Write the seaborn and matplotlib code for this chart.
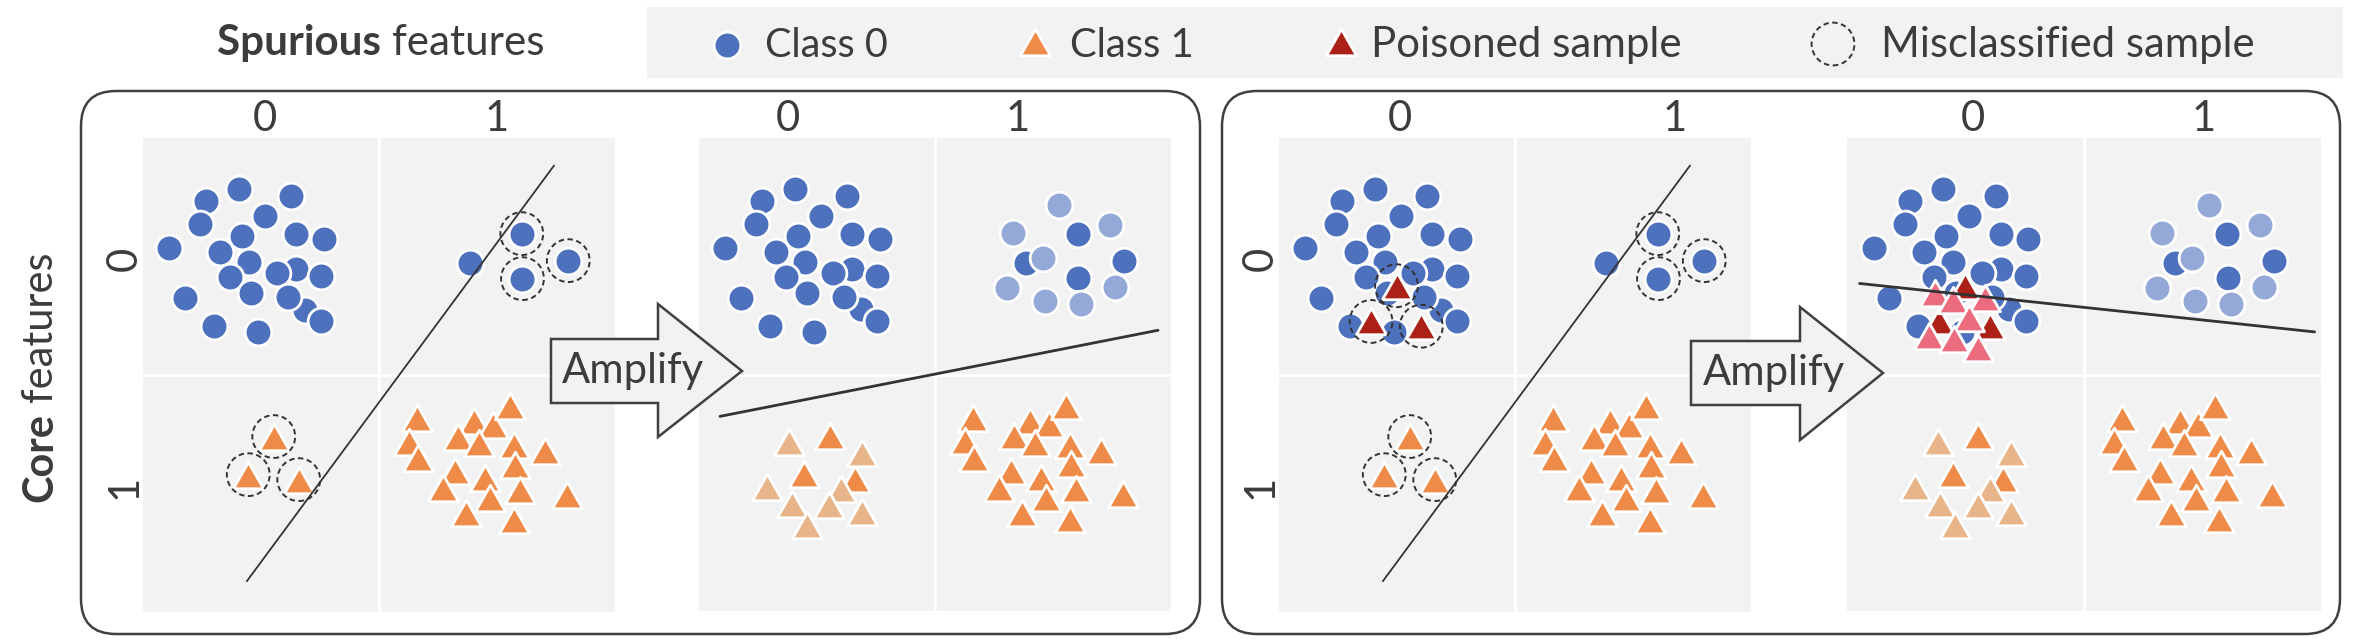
import numpy as np
import matplotlib
matplotlib.use("Agg")
import matplotlib.pyplot as plt
import seaborn as sns
from matplotlib.path import Path
from matplotlib.patches import FancyBboxPatch, Polygon, Rectangle

# ---------------- data: positions in panel units (x = spurious feature, y = core feature; 0..2, y downwards)
# class 0, core 0 / spurious 0 (majority group)
MAJ0_X = [0.112, 0.265, 0.405, 0.628, 0.243, 0.515, 0.419, 0.649, 0.765, 0.325, 0.448,
          0.367, 0.648, 0.569, 0.755, 0.176, 0.459, 0.685, 0.613, 0.755, 0.299, 0.486]
MAJ0_Y = [0.465, 0.268, 0.216, 0.244, 0.363, 0.328, 0.413, 0.404, 0.427, 0.483, 0.525,
          0.587, 0.554, 0.570, 0.582, 0.676, 0.655, 0.725, 0.672, 0.775, 0.793, 0.820]
# class 0 with spurious feature 1 (minority group)
MIN0_X = [1.386, 1.605, 1.608, 1.802]
MIN0_Y = [0.528, 0.404, 0.594, 0.518]
MIN0_MISCLS = [False, True, True, True]
# upweighted copies of the class-0 minority group
UP0_X = [1.527, 1.329, 1.743, 1.456, 1.307, 1.761, 1.467, 1.620]
UP0_Y = [0.283, 0.400, 0.367, 0.509, 0.636, 0.629, 0.688, 0.704]
# class 1, core 1 / spurious 1 (majority group)
MAJ1_X = [1.160, 1.403, 1.482, 1.553, 1.125, 1.334, 1.424, 1.572, 1.704, 1.167,
          1.577, 1.320, 1.450, 1.270, 1.598, 1.471, 1.795, 1.368, 1.570]
MAJ1_Y = [1.183, 1.197, 1.211, 1.134, 1.282, 1.261, 1.289, 1.296, 1.324, 1.352,
          1.380, 1.408, 1.437, 1.479, 1.486, 1.521, 1.507, 1.585, 1.613]
# class 1 with spurious feature 0 (minority group, all misclassified)
MIN1_X = [0.554, 0.446, 0.660]
MIN1_Y = [1.261, 1.422, 1.443]
# upweighted copies of the class-1 minority group
UP1_X = [0.383, 0.690, 0.287, 0.602, 0.393, 0.551, 0.690, 0.457]
UP1_Y = [1.286, 1.333, 1.474, 1.484, 1.548, 1.550, 1.583, 1.635]
# poisoned samples and their upweighted copies
POISON_X = [0.498, 0.390, 0.603]
POISON_Y = [0.624, 0.775, 0.795]
POISON_UP_X = [0.373, 0.446, 0.584, 0.516, 0.347, 0.453, 0.553]
POISON_UP_Y = [0.654, 0.686, 0.678, 0.763, 0.838, 0.848, 0.890]
# decision boundaries (two end points each)
ERM_BX, ERM_BY = [0.440, 1.742], [1.872, 0.116]
AMP_BX, AMP_BY = [0.089, 1.945], [1.177, 0.813]
PAMP_BX, PAMP_BY = [0.053, 1.973], [0.615, 0.820]

# ---------------- text
TICK_LABELS = ["0", "1"]
LEGEND_LABELS = ["Class 0", "Class 1", "Poisoned sample", "Misclassified sample"]
X_TITLE = ("Spurious", "features")
Y_TITLE = ("Core", "features")
ARROW_TEXT = "Amplify"

# ---------------- style
BLUE, LIGHT_BLUE = "#4E71BE", "#94A9D7"
ORANGE, LIGHT_ORANGE = "#EE8B48", "#E8B48A"
RED, PINK = "#AB2118", "#EC6C7F"
GRAY, TEXT, LINE, EDGE = "#F2F2F2", "#3C3C3C", "#333333", "#404040"
S_CIRC, S_TRI, S_RING = 370, 470, 950
MK_LW = 2.0
TRI = Path([(-1.0, -0.88), (1.0, -0.88), (0.0, 0.88), (-1.0, -0.88)], closed=True)
RING_LS = (0, (2.8, 1.8))

sns.set_theme(style="white")
plt.rcParams["font.family"] = ["Lato", "DejaVu Sans"]

W, H, DPI = 2354, 644, 100
fig = plt.figure(figsize=(W / DPI, H / DPI), dpi=DPI)
fig.patch.set_facecolor("white")


def px_axes(x0, y0, x1, y1, **kw):
    return fig.add_axes([x0 / W, 1 - y1 / H, (x1 - x0) / W, (y1 - y0) / H], **kw)


def pts(ax, xs, ys, color, marker, s, lw=MK_LW, z=2):
    sns.scatterplot(x=np.asarray(xs, float), y=np.asarray(ys, float), ax=ax, color=color,
                    marker=marker, s=s, edgecolor="white", linewidth=lw, zorder=z, legend=False)


def rings(ax, xs, ys):
    sns.scatterplot(x=np.asarray(xs, float), y=np.asarray(ys, float), ax=ax, marker="o",
                    s=S_RING, facecolors="none", edgecolor=LINE, linewidth=1.4,
                    linestyle=RING_LS, zorder=4, legend=False)


def boundary(ax, bx, by, lw):
    sns.lineplot(x=np.asarray(bx, float), y=np.asarray(by, float), ax=ax, color=LINE,
                 linewidth=lw, zorder=6, sort=False, estimator=None, legend=False)


def panel(ax, amplified, poisoned):
    ax.set_facecolor(GRAY)
    ax.axvline(1, color="white", lw=2, zorder=0.5)
    ax.axhline(1, color="white", lw=2, zorder=0.5)
    mis_x = [x for x, m in zip(MIN0_X, MIN0_MISCLS) if m]
    mis_y = [y for y, m in zip(MIN0_Y, MIN0_MISCLS) if m]
    pts(ax, MAJ0_X, MAJ0_Y, BLUE, "o", S_CIRC)
    pts(ax, MIN0_X, MIN0_Y, BLUE, "o", S_CIRC)
    if amplified:
        pts(ax, UP0_X, UP0_Y, LIGHT_BLUE, "o", S_CIRC)
    pts(ax, MIN1_X, MIN1_Y, ORANGE, TRI, S_TRI, z=3)
    if amplified:
        pts(ax, UP1_X, UP1_Y, LIGHT_ORANGE, TRI, S_TRI, z=3)
    pts(ax, MAJ1_X, MAJ1_Y, ORANGE, TRI, S_TRI, z=3)
    if poisoned:
        pts(ax, POISON_X, POISON_Y, RED, TRI, S_TRI, z=3)
        if amplified:
            pts(ax, POISON_UP_X, POISON_UP_Y, PINK, TRI, S_TRI, z=3)
    if not amplified:
        rings(ax, mis_x, mis_y)
        rings(ax, MIN1_X, MIN1_Y)
        if poisoned:
            rings(ax, POISON_X, POISON_Y)
        boundary(ax, ERM_BX, ERM_BY, 1.3)
    elif poisoned:
        boundary(ax, PAMP_BX, PAMP_BY, 2.0)
    else:
        boundary(ax, AMP_BX, AMP_BY, 2.0)
    ax.set_xlim(0, 2)
    ax.set_ylim(2, 0)
    ax.set_xticks([])
    ax.set_yticks([])
    ax.set_xlabel("")
    ax.set_ylabel("")
    for sp in ax.spines.values():
        sp.set_visible(False)


PANELS = [(143, 138, 615, 611.5, False, False), (699, 138, 1171, 611, True, False),
          (1279, 138, 1751, 611.5, False, True), (1847, 138, 2321, 611, True, True)]
for x0, y0, x1, y1, amp, poi in PANELS:
    panel(px_axes(x0, y0, x1, y1), amp, poi)

# ---------------- overlay in pixel coordinates
ov = px_axes(0, 0, W, H, zorder=10)
ov.set_xlim(0, W)
ov.set_ylim(H, 0)
ov.axis("off")

R = fig.canvas.get_renderer()


def measure(s, size, weight="normal"):
    t = fig.text(0, 0, s, fontsize=size, fontweight=weight)
    w = t.get_window_extent(renderer=R).width
    t.remove()
    return w


def rich(x, y, parts, target, rotation=0):
    base = 30.0
    ws = [measure(s, base, wt) for s, wt in parts]
    sp = measure("a a", base) - measure("aa", base)
    total = sum(ws) + sp * (len(parts) - 1)
    k = target / total
    size = base * k
    pos = 0.0
    for (s, wt), wi in zip(parts, ws):
        if rotation == 0:
            ov.text(x + pos, y, s, fontsize=size, fontweight=wt, color=TEXT,
                    ha="left", va="baseline", zorder=8)
        else:
            ov.text(x, y - pos, s, fontsize=size, fontweight=wt, color=TEXT, rotation=90,
                    rotation_mode="anchor", ha="left", va="baseline", zorder=8)
        pos += (wi + sp) * k
    return size


# boxes
for bx0, bx1 in [(81, 1200), (1222, 2340)]:
    ov.add_patch(FancyBboxPatch((bx0, 91), bx1 - bx0, 634 - 91,
                                boxstyle="round,pad=0,rounding_size=35",
                                fc="none", ec=EDGE, lw=1.8, zorder=1))

# legend
ov.add_patch(Rectangle((646.6, 7.3), 2343 - 646.6, 77.7 - 7.3, fc=GRAY, ec="none", zorder=0))
ov.scatter([727], [45], s=S_CIRC, marker="o", color=BLUE, edgecolor="white", lw=MK_LW, zorder=3)
ov.scatter([1035], [42], s=S_TRI, marker=TRI, color=ORANGE, edgecolor="white", lw=MK_LW, zorder=3)
ov.scatter([1341], [42], s=S_TRI, marker=TRI, color=RED, edgecolor="white", lw=MK_LW, zorder=3)
ov.scatter([1833], [44], s=S_RING, marker="o", facecolors="none", edgecolor=LINE, lw=1.4,
           linestyle=RING_LS, zorder=3)
size_txt = 30
for lab, lx, tw in zip(LEGEND_LABELS, [765, 1069.5, 1371, 1881], [123, 124, 310, 373]):
    size_txt = rich(lx, 57, [(lab, "normal")], tw)

# titles
rich(217, 55, [(X_TITLE[0], "bold"), (X_TITLE[1], "normal")], 328)
rich(52, 502, [(Y_TITLE[0], "bold"), (Y_TITLE[1], "normal")], 250, rotation=90)

# column / row labels
COL_X = [(265, 497), (788, 1018), (1400, 1675), (1973, 2204)]
for cx in COL_X:
    for lab, x in zip(TICK_LABELS, cx):
        ov.text(x, 131, lab, fontsize=size_txt, color=TEXT, ha="center", va="baseline")
for left in (143, 1279):
    for lab, y in zip(TICK_LABELS, (259, 487)):
        ov.text(left - 6, y, lab, fontsize=size_txt, color=TEXT, rotation=90,
                rotation_mode="anchor", ha="center", va="baseline")

# amplify arrows
for sx0, sx1, tip, ys0, ys1, yh0, yh1, ty, tx, tbase in [
        (551, 658, 742, 339, 403, 304, 437, 371, 562, 383),
        (1691, 1800, 1883, 341, 405, 307, 440, 373, 1703, 385)]:
    ov.add_patch(Polygon([(sx0, ys0), (sx1, ys0), (sx1, yh0), (tip, ty), (sx1, yh1),
                          (sx1, ys1), (sx0, ys1)], closed=True, fc=GRAY, ec=EDGE,
                         lw=1.8, joinstyle="miter", zorder=5))
    rich(tx, tbase, [(ARROW_TEXT, "normal")], 142)

fig.savefig("out.png", dpi=DPI, facecolor="white")
